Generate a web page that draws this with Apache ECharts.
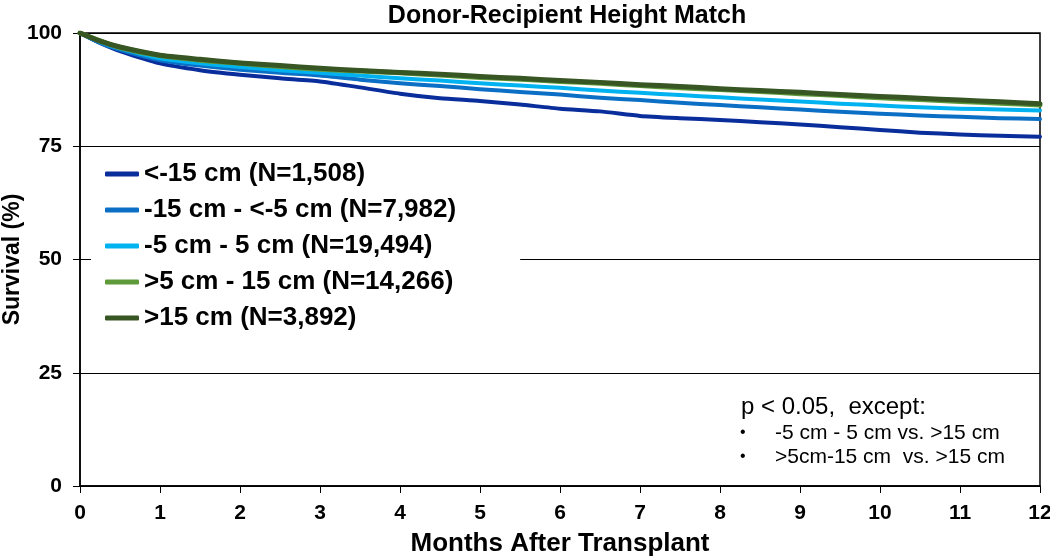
<!DOCTYPE html>
<html>
<head>
<meta charset="utf-8">
<script src="https://cdn.jsdelivr.net/npm/echarts@6/dist/echarts.min.js"></script>
<style>
html,body{margin:0;padding:0;background:#fff;}
#chart{width:1050px;height:557px;}
</style>
</head>
<body>
<div id="chart"></div>
<script>
// ---- Data ----
const months = [0, 0.25, 0.5, 1, 1.5, 2, 2.5, 3, 3.5, 4, 4.5, 5, 5.5, 6, 6.5, 7, 7.5, 8, 8.5, 9, 9.5, 10, 10.5, 11, 11.5, 12];
const seriesNames = ['<-15 cm (N=1,508)', '-15 cm - <-5 cm (N=7,982)', '-5 cm - 5 cm (N=19,494)', '>5 cm - 15 cm (N=14,266)', '>15 cm (N=3,892)'];
const lt15 = [100, 97.8, 96.0, 93.3, 91.8, 90.8, 90.0, 89.3, 88.0, 86.6, 85.6, 85.0, 84.2, 83.3, 82.7, 81.7, 81.2, 80.8, 80.3, 79.8, 79.2, 78.6, 78.0, 77.6, 77.3, 77.1];
const m15to5 = [100, 97.8, 96.3, 94.0, 92.8, 91.9, 91.2, 90.6, 89.7, 88.9, 88.3, 87.6, 87.0, 86.4, 85.7, 85.2, 84.6, 84.1, 83.6, 83.1, 82.6, 82.2, 81.8, 81.5, 81.2, 81.0];
const m5to5 = [100, 98.0, 96.6, 94.4, 93.3, 92.5, 91.8, 91.2, 90.6, 90.0, 89.5, 88.9, 88.4, 87.9, 87.3, 86.8, 86.3, 85.8, 85.3, 84.9, 84.4, 84.0, 83.6, 83.3, 83.1, 82.9];
const p5to15 = [100, 98.3, 96.8, 95.0, 94.0, 93.3, 92.6, 92.0, 91.6, 91.2, 90.7, 90.2, 89.8, 89.3, 88.9, 88.4, 87.9, 87.5, 87.1, 86.6, 86.2, 85.7, 85.3, 84.9, 84.5, 84.1];
const gt15 = [100, 98.2, 96.9, 95.1, 94.2, 93.4, 92.8, 92.2, 91.7, 91.3, 90.9, 90.4, 90.0, 89.5, 89.1, 88.6, 88.2, 87.7, 87.3, 86.9, 86.4, 86.0, 85.6, 85.2, 84.8, 84.4];
const xTicks = [0, 1, 2, 3, 4, 5, 6, 7, 8, 9, 10, 11, 12];
const yTicks = [0, 25, 50, 75, 100];
const noteLines = ['p < 0.05,  except:', '-5 cm - 5 cm vs. >15 cm', '>5cm-15 cm  vs. >15 cm'];

// ---- Style ----
const FONT = "'Liberation Sans', Arial, Helvetica, sans-serif";
const colors = ['#0A2D9C', '#0C6FC6', '#00B2F0', '#5E9A3A', '#375623'];
const widths = [4, 4, 4, 5, 5];
const allValues = [lt15, m15to5, m5to5, p5to15, gt15];

const chart = echarts.init(document.getElementById('chart'));
const series = allValues.map((vals, i) => ({
  name: seriesNames[i],
  type: 'line',
  data: months.map((m, j) => [m, vals[j]]),
  symbol: 'none',
  smooth: 0.2,
  lineStyle: { color: colors[i], width: widths[i], cap: 'round', join: 'round' },
  itemStyle: { color: colors[i] },
  z: 2 + i,
  animation: false
}));

chart.setOption({
  animation: false,
  backgroundColor: '#fff',
  title: {
    text: 'Donor-Recipient Height Match',
    left: 562, top: -1, textAlign: 'center',
    textStyle: { fontFamily: FONT, fontWeight: 'bold', fontSize: 25, color: '#000' }
  },
  grid: {
    left: 80, right: 10, top: 33, bottom: 71,
    containLabel: false, outerBoundsMode: 'none',
    show: true, borderColor: '#000', borderWidth: 1.5, backgroundColor: 'transparent'
  },
  legend: {
    orient: 'vertical',
    left: 91, top: 153,
    padding: [8, 64, 8, 14],
    backgroundColor: '#fff',
    itemGap: 10,
    itemWidth: 34, itemHeight: 5,
    icon: 'roundRect',
    data: seriesNames,
    textStyle: { fontFamily: FONT, fontWeight: 'bold', fontSize: 26, color: '#000', lineHeight: 26 },
    z: 10
  },
  xAxis: {
    type: 'value', min: 0, max: 12, interval: 1,
    name: 'Months After Transplant', nameLocation: 'middle', nameGap: 45,
    nameMoveOverlap: false,
    nameTextStyle: { fontFamily: FONT, fontWeight: 'bold', fontSize: 26, color: '#000' },
    axisLine: { show: true, lineStyle: { color: '#000', width: 1.5 } },
    axisTick: { show: true, length: 7, lineStyle: { color: '#000', width: 1 } },
    axisLabel: { fontFamily: FONT, fontWeight: 'bold', fontSize: 21, color: '#000', margin: 17,
      formatter: v => xTicks.includes(v) ? String(v) : '' },
    splitLine: { show: false }
  },
  yAxis: {
    type: 'value', min: 0, max: 100, interval: 25,
    name: 'Survival (%)', nameLocation: 'middle', nameGap: 56,
    nameMoveOverlap: false,
    nameTextStyle: { fontFamily: FONT, fontWeight: 'bold', fontSize: 23, color: '#000' },
    axisLine: { show: true, lineStyle: { color: '#000', width: 1.5 } },
    axisTick: { show: true, length: 7, lineStyle: { color: '#000', width: 1 } },
    axisLabel: { fontFamily: FONT, fontWeight: 'bold', fontSize: 21, color: '#000', margin: 18,
      formatter: v => yTicks.includes(v) ? String(v) : '' },
    splitLine: { show: true, lineStyle: { color: '#000', width: 1 } }
  },
  graphic: [
    { type: 'text', left: 741, top: 395, z: 20,
      style: { text: noteLines[0], font: '24px ' + FONT, fill: '#000' } },
    { type: 'text', left: 740, top: 425, z: 20,
      style: { text: '\u2022', font: '16px ' + FONT, fill: '#000' } },
    { type: 'text', left: 775, top: 423, z: 20,
      style: { text: noteLines[1], font: '21px ' + FONT, fill: '#000' } },
    { type: 'text', left: 740, top: 449, z: 20,
      style: { text: '\u2022', font: '16px ' + FONT, fill: '#000' } },
    { type: 'text', left: 775, top: 447, z: 20,
      style: { text: noteLines[2], font: '21px ' + FONT, fill: '#000' } }
  ],
  series: series
});
</script>
</body>
</html>
